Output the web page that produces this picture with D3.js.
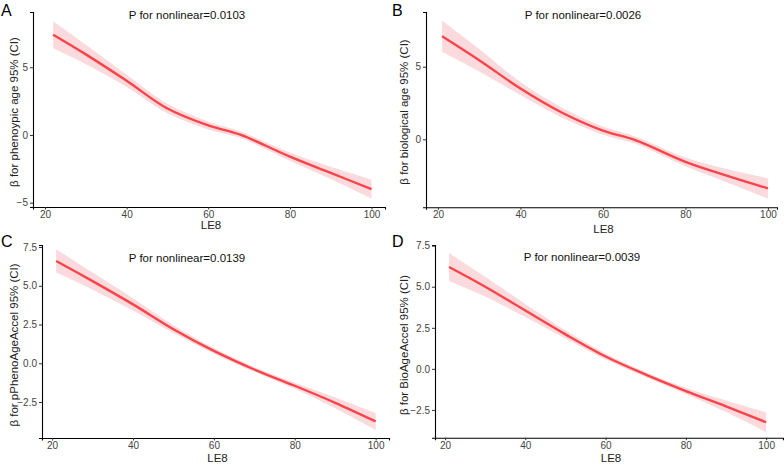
<!DOCTYPE html>
<html><head><meta charset="utf-8">
<script src="https://cdn.jsdelivr.net/npm/d3@7"></script>
<style>body{margin:0;background:#fff}svg{display:block}text{font-family:"Liberation Sans",Arial,sans-serif}</style>
</head><body><svg id="c" width="784" height="465"></svg>
<script>
// LE8 grid points
const leA = [22, 30, 40, 50, 60, 68, 80, 90, 100];
const fitA = [7.4, 5.95, 4.0, 1.95, 0.7, 0.0, -1.6, -2.8, -4.0];
const seA  = [1.0, 0.72, 0.45, 0.35, 0.3, 0.25, 0.3, 0.45, 0.7];

const leB = [21, 30, 40, 50, 60, 68, 80, 90, 100];
const fitB = [7.1, 5.45, 3.5, 1.85, 0.6, -0.07, -1.55, -2.5, -3.38];
const seB  = [1.07, 0.78, 0.45, 0.35, 0.28, 0.25, 0.3, 0.45, 0.7];

const leC = [21, 30, 40, 50, 60, 70, 80, 90, 100];
const fitC = [6.6, 5.3, 3.8, 2.2, 0.8, -0.4, -1.45, -2.55, -3.75];
const seC  = [0.75, 0.55, 0.4, 0.25, 0.18, 0.15, 0.2, 0.35, 0.55];

const leD = [21, 30, 40, 50, 60, 70, 80, 90, 100];
const fitD = [6.2, 5.0, 3.55, 2.1, 0.75, -0.35, -1.35, -2.28, -3.25];
const seD  = [0.85, 0.6, 0.4, 0.25, 0.18, 0.15, 0.2, 0.35, 0.6];

const xTicks = [20, 40, 60, 80, 100];
const yTicksA = [-5, 0, 5];
const yTicksB = [0, 5];
const yTicksCD = [-2.5, 0, 2.5, 5, 7.5];

const labels = ["A", "B", "C", "D"];
const pTexts = ["P for nonlinear=0.0103", "P for nonlinear=0.0026", "P for nonlinear=0.0139", "P for nonlinear=0.0039"];
const yTitles = ["β for phenoypic age 95% (CI)", "β for biological age 95% (CI)", "β for pPhenoAgeAccel 95% (CI)", "β for BioAgeAccel 95% (CI)"];

const panels = [
  {le: leA, fit: fitA, se: seA, yt: yTicksA, fmt: d3.format("d"),
   px: [33, 385], py: [207, 12], xd: [17.06, 103.3], yd: [-5.32, 9.08],
   lab: [1, 16], p: [187, 19], yTitle: [14, 112], le8: 229},
  {le: leB, fit: fitB, se: seB, yt: yTicksB, fmt: d3.format("d"),
   px: [426, 777], py: [207.3, 12], xd: [17.1, 102.2], yd: [-4.68, 8.77],
   lab: [392, 16], p: [583, 19], yTitle: [404, 112], le8: 233},
  {le: leC, fit: fitC, se: seC, yt: yTicksCD, fmt: d3.format(".1f"),
   px: [42, 389], py: [438, 245], xd: [17.5, 103.3], yd: [-4.82, 7.63],
   lab: [1, 247], p: [187, 262], yTitle: [14, 345], le8: 462},
  {le: leD, fit: fitD, se: seD, yt: yTicksCD, fmt: d3.format(".1f"),
   px: [435, 783], py: [437.7, 245], xd: [17.5, 104.2], yd: [-4.19, 7.54],
   lab: [392, 247], p: [582, 261], yTitle: [404, 345], le8: 462}
];

const svg = d3.select("#c");
panels.forEach((P, i) => {
  const x = d3.scaleLinear().domain(P.xd).range(P.px);
  const y = d3.scaleLinear().domain(P.yd).range(P.py);
  const g = svg.append("g");
  const data = P.le.map((v, k) => ({x: v, f: P.fit[k], lo: P.fit[k] - P.se[k], hi: P.fit[k] + P.se[k]}));
  const cv = d3.curveCatmullRom.alpha(0.5);
  g.append("path").datum(data)
    .attr("d", d3.area().x(d => x(d.x)).y0(d => y(d.lo)).y1(d => y(d.hi)).curve(cv))
    .attr("fill", "#f9c6cb").attr("opacity", 0.65);
  g.append("path").datum(data)
    .attr("d", d3.line().x(d => x(d.x)).y(d => y(d.f)).curve(cv))
    .attr("fill", "none").attr("stroke", "#fa4449").attr("stroke-width", 2.4);

  const xa = g.append("g").attr("transform", `translate(0,${P.py[0]})`)
    .call(d3.axisBottom(x).tickValues(xTicks).tickSize(2.5).tickPadding(1.5));
  const ya = g.append("g").attr("transform", `translate(${P.px[0]},0)`)
    .call(d3.axisLeft(y).tickValues(P.yt).tickFormat(P.fmt).tickSize(3).tickPadding(2));
  [xa, ya].forEach(a => {
    a.select(".domain").attr("stroke", "#000").attr("stroke-width", 1.1);
    a.selectAll(".tick line").attr("stroke", "#333");
    a.selectAll(".tick text").attr("fill", "#444").attr("font-size", 10)
      .attr("font-family", "Liberation Sans, Arial, sans-serif");
  });

  g.append("text").attr("x", (P.px[0] + P.px[1]) / 2 + 2).attr("y", P.le8)
    .attr("text-anchor", "middle").attr("font-size", 11.5).attr("fill", "#222").text("LE8");
  g.append("text").attr("transform", `translate(${P.yTitle[0]},${P.yTitle[1]}) rotate(-90)`)
    .attr("text-anchor", "middle").attr("dy", "0.35em").attr("font-size", 11.5).attr("fill", "#222")
    .text(yTitles[i]);
  g.append("text").attr("x", P.p[0]).attr("y", P.p[1]).attr("text-anchor", "middle")
    .attr("font-size", 11.5).attr("fill", "#111").text(pTexts[i]);
  g.append("text").attr("x", P.lab[0]).attr("y", P.lab[1]).attr("font-size", 16).attr("fill", "#000").text(labels[i]);
});
</script></body></html>
